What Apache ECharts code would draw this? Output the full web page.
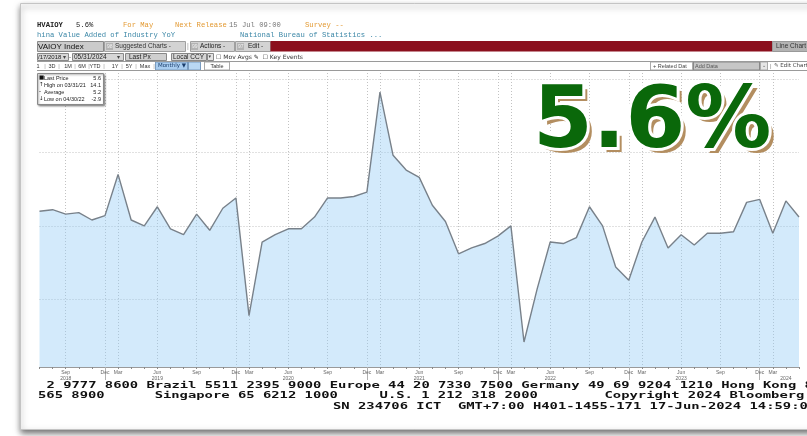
<!DOCTYPE html>
<html>
<head>
<meta charset="utf-8">
<script src="https://cdn.jsdelivr.net/npm/echarts@6/dist/echarts.min.js"></script>
<style>
html, body { margin: 0; padding: 0; background: #fff; }
#main { width: 807px; height: 436px; }
</style>
</head>
<body>
<div id="main"></div>
<script>
// monthly prints, Bloomberg series has no Jan / Feb values
var periods = [
  '2018-07', '2018-08', '2018-09', '2018-10', '2018-11', '2018-12',
  '2019-03', '2019-04', '2019-05', '2019-06', '2019-07', '2019-08', '2019-09', '2019-10', '2019-11', '2019-12',
  '2020-03', '2020-04', '2020-05', '2020-06', '2020-07', '2020-08', '2020-09', '2020-10', '2020-11', '2020-12',
  '2021-03', '2021-04', '2021-05', '2021-06', '2021-07', '2021-08', '2021-09', '2021-10', '2021-11', '2021-12',
  '2022-03', '2022-04', '2022-05', '2022-06', '2022-07', '2022-08', '2022-09', '2022-10', '2022-11', '2022-12',
  '2023-03', '2023-04', '2023-05', '2023-06', '2023-07', '2023-08', '2023-09', '2023-10', '2023-11', '2023-12',
  '2024-03', '2024-04', '2024-05'
];
var ivaYoY = [
  6.0, 6.1, 5.8, 5.9, 5.4, 5.7,
  8.5, 5.4, 5.0, 6.3, 4.8, 4.4, 5.8, 4.7, 6.2, 6.9,
  -1.1, 3.9, 4.4, 4.8, 4.8, 5.6, 6.9, 6.9, 7.0, 7.3,
  14.1, 9.8, 8.8, 8.3, 6.4, 5.3, 3.1, 3.5, 3.8, 4.3,
  5.0, -2.9, 0.7, 3.9, 3.8, 4.2, 6.3, 5.0, 2.2, 1.3,
  3.9, 5.6, 3.5, 4.4, 3.7, 4.5, 4.5, 4.6, 6.6, 6.8,
  4.5, 6.7, 5.6
];
var monthNames = { '03': 'Mar', '06': 'Jun', '09': 'Sep', '12': 'Dec' };
var yearLabelAt = {
  '2018-09': '2018', '2019-06': '2019', '2020-06': '2020', '2021-06': '2021',
  '2022-06': '2022', '2023-06': '2023', '2024-04': '2024'
};

// legend stats
var lastVal = ivaYoY[ivaYoY.length - 1];
var hiIdx = 0, loIdx = 0, sum = 0;
ivaYoY.forEach(function (v, i) {
  if (v > ivaYoY[hiIdx]) hiIdx = i;
  if (v < ivaYoY[loIdx]) loIdx = i;
  sum += v;
});
var avgVal = sum / ivaYoY.length;
function monthEnd(p) {
  var y = +p.slice(0, 4), m = +p.slice(5, 7);
  var d = new Date(y, m, 0).getDate();
  return p.slice(5, 7) + '/' + d + '/' + p.slice(2, 4);
}

var g = [];
function T(x, y, s, o) {
  o = o || {};
  g.push({
    type: 'text', x: x, y: y, z: o.z || 20, scaleX: o.sx || 1,
    style: {
      text: s, font: o.font || '6.5px "Liberation Sans"', fill: o.fill || '#222',
      textAlign: o.align || 'left', align: o.align || 'left',
      textVerticalAlign: 'middle', verticalAlign: 'middle',
      stroke: o.stroke || null, lineWidth: o.lw || 0
    }
  });
}
function R(x, y, w, h, fill, stroke, z) {
  g.push({
    type: 'rect', z: z || 15, shape: { x: x, y: y, width: w, height: h },
    style: { fill: fill, stroke: stroke || null, lineWidth: 1 }
  });
}
function L(x1, y1, x2, y2, c) {
  g.push({ type: 'line', z: 16, shape: { x1: x1, y1: y1, x2: x2, y2: y2 }, style: { stroke: c || '#999', lineWidth: 1 } });
}

// screenshot frame
g.push({
  type: 'rect', z: -1, shape: { x: 20.5, y: 3.5, width: 800, height: 426 },
  style: { fill: '#fff', stroke: '#c4c4c4', lineWidth: 1, shadowBlur: 6, shadowColor: 'rgba(0,0,0,0.55)', shadowOffsetY: 3 }
});

// header rows
var MONO = '7.2px "Liberation Mono"';
T(37, 25, 'HVAIOY', { font: 'bold ' + MONO, fill: '#222' });
T(76, 25, '5.6%', { font: MONO, fill: '#222' });
T(123, 25, 'For May', { font: MONO, fill: '#e39a33' });
T(175, 25, 'Next Release', { font: MONO, fill: '#e39a33' });
T(229, 25, '15 Jul 09:00', { font: MONO, fill: '#777' });
T(305, 25, 'Survey --', { font: MONO, fill: '#e39a33' });
T(37, 35.5, 'hina Value Added of Industry YoY', { font: MONO, fill: '#3a86a6' });
T(240, 35.5, 'National Bureau of Statistics ...', { font: MONO, fill: '#3a86a6' });

// red command bar
R(37.5, 41.5, 66, 10, '#cbcbcb', '#8a8a8a');
T(38, 46.5, 'VAIOY Index', { font: '8px "Liberation Sans"', fill: '#111' });
R(104.5, 41.5, 81, 10, '#d3d3d3', '#a0a0a0');
R(106, 43, 7, 7, '#b3b3b3');
T(107, 46.5, '98', { font: '5px "Liberation Sans"', fill: '#f2f2f2' });
T(115, 46.5, 'Suggested Charts -', { font: '6.5px "Liberation Sans"', fill: '#333' });
T(187, 46.5, '|', { font: '7px "Liberation Sans"', fill: '#999' });
R(190.5, 41.5, 44, 10, '#d3d3d3', '#a0a0a0');
R(191, 43, 7, 7, '#b3b3b3');
T(192, 46.5, '99', { font: '5px "Liberation Sans"', fill: '#f2f2f2' });
T(200, 46.5, 'Actions -', { font: '6.5px "Liberation Sans"', fill: '#222' });
R(235.5, 41.5, 35, 10, '#d3d3d3', '#a0a0a0');
R(237, 43, 7, 7, '#b3b3b3');
T(238, 46.5, '97', { font: '5px "Liberation Sans"', fill: '#f2f2f2' });
T(248, 46.5, 'Edit -', { font: '6.5px "Liberation Sans"', fill: '#222' });
R(270.5, 41, 502, 10.5, '#8b0f1d');
R(772.5, 41.5, 40, 10, '#b3b3b3', '#999');
T(776, 46.5, 'Line Chart', { font: '6.5px "Liberation Sans"', fill: '#333' });

// date row
R(37.5, 53.5, 31, 7, '#d6d6d6', '#888');
T(38, 57, '/17/2018', { font: '6px "Liberation Sans"', fill: '#222' });
T(63, 57, '\u25BE', { font: '6px "DejaVu Sans"', fill: '#444' });
T(69, 57, '-', { font: '6px "Liberation Sans"', fill: '#444' });
R(72.5, 53.5, 51, 7, '#d6d6d6', '#888');
T(74, 57, '05/31/2024', { font: '6.5px "Liberation Sans"', fill: '#222' });
T(117, 57, '\u25BE', { font: '6px "DejaVu Sans"', fill: '#444' });
R(125.5, 53.5, 41, 7, '#cfcfcf', '#888');
T(129, 57, 'Last Px', { font: '6.5px "Liberation Sans"', fill: '#222' });
R(171.5, 53.5, 35, 7, '#d6d6d6', '#888');
T(173, 57, 'Local CCY', { font: '6.5px "Liberation Sans"', fill: '#222' });
R(207.5, 53.5, 6, 7, '#e4e4e4', '#888');
T(208.5, 57, '\u25BE', { font: '5px "DejaVu Sans"', fill: '#444' });
T(216, 57, '\u2610 Mov Avgs \u270E  \u2610 Key Events', { font: '6px "DejaVu Sans"', fill: '#333' });
L(37, 61.5, 807, 61.5, '#9a9a9a');
L(37, 70.5, 807, 70.5, '#9a9a9a');

// range row
var ranges = [['1', 38], ['3D', 52], ['1M', 68], ['6M', 82], ['YTD', 95], ['1Y', 115], ['5Y', 129], ['Max', 145]];
ranges.forEach(function (r) {
  T(r[1], 66, r[0], { font: '5.5px "Liberation Sans"', fill: '#333', align: 'center' });
  T(r[1] + (r[0].length > 2 ? 9 : 7), 66, '|', { font: '6px "Liberation Sans"', fill: '#999', align: 'center' });
});
R(155.5, 62, 32, 8, '#a9cdf0', '#7a9cc0');
T(158, 66, 'Monthly \u25BC', { font: '5.5px "DejaVu Sans"', fill: '#1a3d6b' });
R(188.5, 62, 12, 8, '#b9d8f4', '#7a9cc0');
R(204.5, 62, 25, 8, '#fff', '#aaa');
T(217, 66, 'Table', { font: '5.5px "Liberation Sans"', fill: '#333', align: 'center' });
R(650.5, 62, 42, 8, '#fff', '#aaa');
T(653, 66, '+ Related Dat', { font: '5.5px "Liberation Sans"', fill: '#444' });
R(693.5, 62, 66, 8, '#c6c6c6', '#888');
T(695, 66, 'Add Data', { font: '5.5px "Liberation Sans"', fill: '#555' });
R(760.5, 62, 7, 8, '#e6e6e6', '#aaa');
T(764, 66, '\u2304', { font: '5px "DejaVu Sans"', fill: '#555', align: 'center' });
T(770, 66, '|', { font: '6px "Liberation Sans"', fill: '#888' });
T(774, 66, '\u270E Edit Chart', { font: '5.5px "DejaVu Sans"', fill: '#444' });

// legend box
g.push({
  type: 'rect', z: 18, shape: { x: 37.5, y: 73.5, width: 66, height: 31 },
  style: { fill: '#fff', stroke: '#8a8a8a', lineWidth: 1, shadowBlur: 2, shadowColor: 'rgba(0,0,0,0.4)', shadowOffsetX: 1, shadowOffsetY: 1 }
});
var legendRows = [
  ['\u25A0', 'Last Price', lastVal.toFixed(1)],
  ['\u2191', 'High on ' + monthEnd(periods[hiIdx]), ivaYoY[hiIdx].toFixed(1)],
  ['-', 'Average', avgVal.toFixed(1)],
  ['\u2193', 'Low on ' + monthEnd(periods[loIdx]), ivaYoY[loIdx].toFixed(1)]
];
legendRows.forEach(function (r, i) {
  var y = 78 + i * 7;
  T(39, y, r[0], { font: '5.5px "DejaVu Sans"', fill: '#111', z: 19 });
  T(44, y, r[1], { font: '5.5px "Liberation Sans"', fill: '#222', z: 19 });
  T(101, y, r[2], { font: '5.5px "Liberation Sans"', fill: '#222', align: 'right', z: 19 });
});

// big headline number
var BIG = 'bold 86px "DejaVu Sans"';
T(538, 130, '5.6%', { font: BIG, fill: '#b38e60', z: 30 });
T(533, 125, '5.6%', { font: BIG, fill: '#fff', stroke: '#fff', lw: 6, z: 31 });
T(533, 125, '5.6%', { font: BIG, fill: '#0a680a', z: 32 });

// footer
var FOOT = 'bold 9px "DejaVu Sans Mono"';
var FSX = 8.33 / (9 * 0.602);
T(46.5, 385.5, '2 9777 8600 Brazil 5511 2395 9000 Europe 44 20 7330 7500 Germany 49 69 9204 1210 Hong Kong 852', { font: FOOT, fill: '#111', sx: FSX });
T(38, 396, '565 8900      Singapore 65 6212 1000     U.S. 1 212 318 2000        Copyright 2024 Bloomberg Finance L.P.', { font: FOOT, fill: '#111', sx: FSX });
T(333, 407, 'SN 234706 ICT  GMT+7:00 H401-1455-171 17-Jun-2024 14:59:00', { font: FOOT, fill: '#111', sx: FSX });

var chart = echarts.init(document.getElementById('main'));
chart.setOption({
  animation: false,
  backgroundColor: 'transparent',
  grid: { left: 39.5, right: 8, top: 73, bottom: 69 },
  xAxis: [{
    type: 'category',
    data: periods,
    boundaryGap: false,
    axisLine: { onZero: false, lineStyle: { color: '#9a9a9a' } },
    axisTick: { show: true, interval: 0, length: 2, lineStyle: { color: '#8a8a8a' } },
    axisLabel: {
      interval: function (i, v) { return !!monthNames[v.slice(5)]; },
      formatter: function (v) { return monthNames[v.slice(5)] || ''; },
      fontSize: 5, color: '#666', margin: 3, fontFamily: 'Liberation Sans'
    },
    splitLine: {
      show: true,
      interval: function (i, v) { return !!monthNames[v.slice(5)]; },
      lineStyle: { color: '#c2c2c2', type: [1, 2] }
    }
  }, {
    type: 'category',
    data: periods,
    boundaryGap: false,
    position: 'bottom',
    offset: 0,
    axisLine: { show: false, onZero: false },
    axisTick: {
      show: true, length: 13, lineStyle: { color: '#b0b0b0' },
      interval: function (i, v) { return v.slice(5) === '12'; }
    },
    axisLabel: {
      interval: function (i, v) { return !!yearLabelAt[v]; },
      formatter: function (v) { return yearLabelAt[v] || ''; },
      fontSize: 5, color: '#666', margin: 9, fontFamily: 'Liberation Sans'
    },
    splitLine: { show: false }
  }],
  yAxis: {
    type: 'value',
    min: -4.6,
    max: 15.4,
    splitNumber: 4,
    axisLine: { show: false },
    axisTick: { show: false },
    axisLabel: { show: false },
    splitLine: { show: true, showMinLine: false, showMaxLine: false, lineStyle: { color: '#c2c2c2', type: [1, 2] } }
  },
  series: [{
    type: 'line',
    data: ivaYoY,
    symbol: 'none',
    lineStyle: { color: '#78818a', width: 1.4 },
    areaStyle: { color: 'rgba(150,206,246,0.6)', origin: 'start' }
  }],
  graphic: g
});
</script>
</body>
</html>
